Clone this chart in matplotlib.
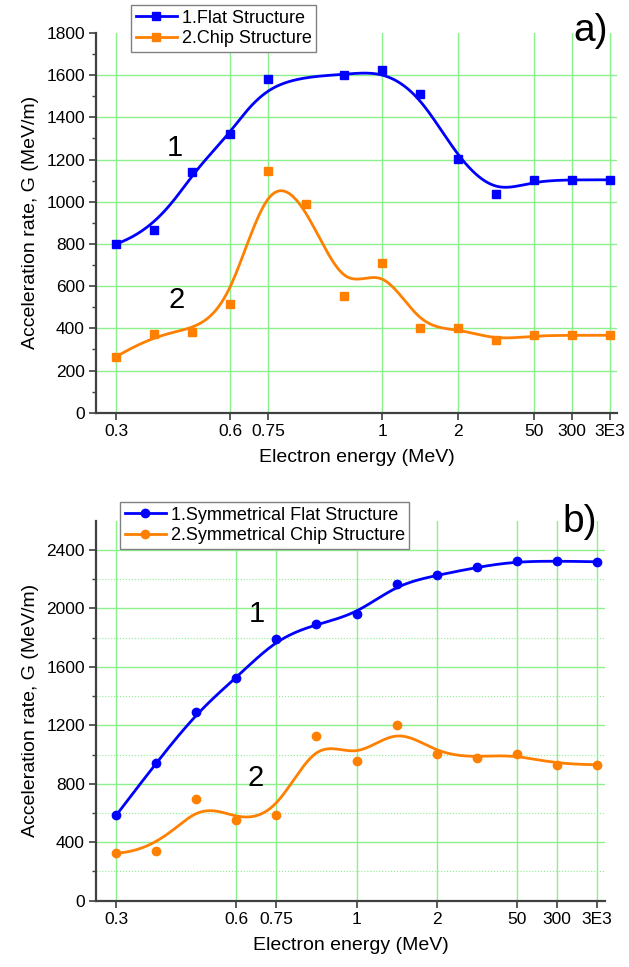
import matplotlib
matplotlib.use('Agg')
import matplotlib.pyplot as plt
from matplotlib.ticker import FixedLocator, MultipleLocator
import numpy as np

plt.rcParams['font.family'] = ['Liberation Sans', 'DejaVu Sans']

# ---- data, panel a (category index along x) ----
a_ticks_pos = [0, 3, 4, 7, 9, 11, 12, 13]
a_ticks_lab = ['0.3', '0.6', '0.75', '1', '2', '50', '300', '3E3']
a_flat_x = [0, 1, 2, 3, 4, 6, 7, 8, 9, 10, 11, 12, 13]
a_flat_y = [800, 864, 1142, 1319, 1583, 1602, 1623, 1509, 1201, 1035, 1104, 1104, 1104]
a_chip_x = [0, 1, 2, 3, 4, 5, 6, 7, 8, 9, 10, 11, 12, 13]
a_chip_y = [265, 372, 381, 514, 1144, 990, 555, 711, 400, 400, 343, 367, 367, 367]

# ---- data, panel b ----
b_ticks_pos = [0, 3, 4, 6, 8, 10, 11, 12]
b_ticks_lab = ['0.3', '0.6', '0.75', '1', '2', '50', '300', '3E3']
b_x = [0, 1, 2, 3, 4, 5, 6, 7, 8, 9, 10, 11, 12]
b_flat_y = [583, 943, 1290, 1523, 1793, 1892, 1960, 2164, 2226, 2281, 2324, 2324, 2319]
b_chip_y = [325, 341, 698, 549, 586, 1130, 958, 1199, 1006, 979, 1006, 931, 931]

BLUE = '#0000FF'
ORANGE = '#FF8000'
GRID = '#8CF08C'
SPINE = '#404040'


def bspline(xs, ys, num=600, deg=3):
    # clamped uniform B-spline using the data points as control points
    ctrl = np.column_stack([xs, ys]).astype(float)
    n = len(ctrl)
    knots = np.r_[np.zeros(deg + 1), np.arange(1, n - deg), np.full(deg + 1, n - deg)].astype(float)
    t = np.linspace(0, n - deg, num)
    t[-1] -= 1e-9
    N = np.zeros((num, len(knots) - 1))
    for i in range(len(knots) - 1):
        N[:, i] = (knots[i] <= t) & (t < knots[i + 1])
    for p in range(1, deg + 1):
        Nn = np.zeros((num, len(knots) - 1 - p))
        for i in range(len(knots) - 1 - p):
            d1 = knots[i + p] - knots[i]
            d2 = knots[i + p + 1] - knots[i + 1]
            a = (t - knots[i]) / d1 * N[:, i] if d1 > 0 else 0
            b = (knots[i + p + 1] - t) / d2 * N[:, i + 1] if d2 > 0 else 0
            Nn[:, i] = a + b
        N = Nn
    c = N @ ctrl
    return c[:, 0], c[:, 1]


def style_axes(ax, tpos, tlab, ymax, ymajor, yminor, minor_grid):
    for s in ['top', 'right']:
        ax.spines[s].set_visible(False)
    for s in ['left', 'bottom']:
        ax.spines[s].set_color(SPINE)
        ax.spines[s].set_linewidth(1.6)
    ax.set_xticks(tpos)
    ax.set_xticklabels(tlab)
    ax.set_yticks(np.arange(0, ymax + 1, ymajor))
    ax.yaxis.set_minor_locator(MultipleLocator(yminor))
    ax.tick_params(axis='both', which='major', direction='out', length=5, width=1.2,
                   color=SPINE, labelsize=12.5, pad=3)
    ax.tick_params(axis='y', which='minor', direction='out', length=3, width=1.0, color=SPINE)
    ax.set_axisbelow(True)
    ax.grid(True, which='major', color=GRID, linewidth=1.0)
    if minor_grid:
        ax.grid(True, which='minor', axis='y', color=GRID, linewidth=0.8, linestyle=':')
    ax.set_xlabel('Electron energy (MeV)', fontsize=14, labelpad=7)
    ax.set_ylabel('Acceleration rate, G (MeV/m)', fontsize=14, labelpad=5)


def add_legend(ax, handles, labels, x0, y0):
    leg = ax.legend(handles, labels, loc='upper left', bbox_to_anchor=(x0 / 629, 1 - y0 / 967),
                    bbox_transform=fig.transFigure, fontsize=13, fancybox=False,
                    edgecolor='#808080', framealpha=1, borderpad=0.25, labelspacing=0.22,
                    handlelength=2.3, handletextpad=0.25, borderaxespad=0)
    leg.get_frame().set_linewidth(1.0)


fig = plt.figure(figsize=(6.29, 9.67), dpi=100)

# ---------------- panel a ----------------
ax1 = fig.add_axes([96 / 629, 1 - 412.7 / 967, (617 - 96) / 629, (412.7 - 33) / 967])
xs, ys = bspline(a_flat_x, a_flat_y)
ax1.plot(xs, ys, color=BLUE, lw=2)
ax1.plot(a_flat_x, a_flat_y, 's', color=BLUE, ms=5.5)
xs, ys = bspline(a_chip_x, a_chip_y)
ax1.plot(xs, ys, color=ORANGE, lw=2)
ax1.plot(a_chip_x, a_chip_y, 's', color=ORANGE, ms=5.5)
ax1.set_xlim(-0.53, 13.18)
ax1.set_ylim(0, 1800)
style_axes(ax1, a_ticks_pos, a_ticks_lab, 1800, 200, 100, False)
for v, gl in zip(ax1.get_yticks(), ax1.get_ygridlines()):
    if v >= 1800:
        gl.set_visible(False)
ax1.text(1.55, 1254, '1', fontsize=21, ha='center', va='center')
ax1.text(1.58, 534, '2', fontsize=21, ha='center', va='center')
h1, = ax1.plot([], [], '-s', color=BLUE, lw=2, ms=5.5)
h2, = ax1.plot([], [], '-s', color=ORANGE, lw=2, ms=5.5)
add_legend(ax1, [h1, h2], ['1.Flat Structure', '2.Chip Structure'], 131, 5)
fig.text(591 / 629, 1 - 31 / 967, 'a)', fontsize=28, ha='center', va='center')

# ---------------- panel b ----------------
ax2 = fig.add_axes([96 / 629, 1 - 900.7 / 967, (605 - 96) / 629, (900.7 - 520.7) / 967])
xs, ys = bspline(b_x, b_flat_y)
ax2.plot(xs, ys, color=BLUE, lw=2)
ax2.plot(b_x, b_flat_y, 'o', color=BLUE, ms=6)
xs, ys = bspline(b_x, b_chip_y)
ax2.plot(xs, ys, color=ORANGE, lw=2)
ax2.plot(b_x, b_chip_y, 'o', color=ORANGE, ms=6)
ax2.set_xlim(-0.5, 12.2)
ax2.set_ylim(0, 2600)
style_axes(ax2, b_ticks_pos, b_ticks_lab, 2400, 400, 200, True)
ax2.yaxis.set_minor_locator(FixedLocator(np.arange(200, 2400, 400)))
ax2.text(3.52, 1960, '1', fontsize=21, ha='center', va='center')
ax2.text(3.49, 842, '2', fontsize=21, ha='center', va='center')
h1, = ax2.plot([], [], '-o', color=BLUE, lw=2, ms=6)
h2, = ax2.plot([], [], '-o', color=ORANGE, lw=2, ms=6)
add_legend(ax2, [h1, h2], ['1.Symmetrical Flat Structure', '2.Symmetrical Chip Structure'], 120, 502)
fig.text(580 / 629, 1 - 522 / 967, 'b)', fontsize=28, ha='center', va='center')

fig.savefig('out.png', dpi=100)
